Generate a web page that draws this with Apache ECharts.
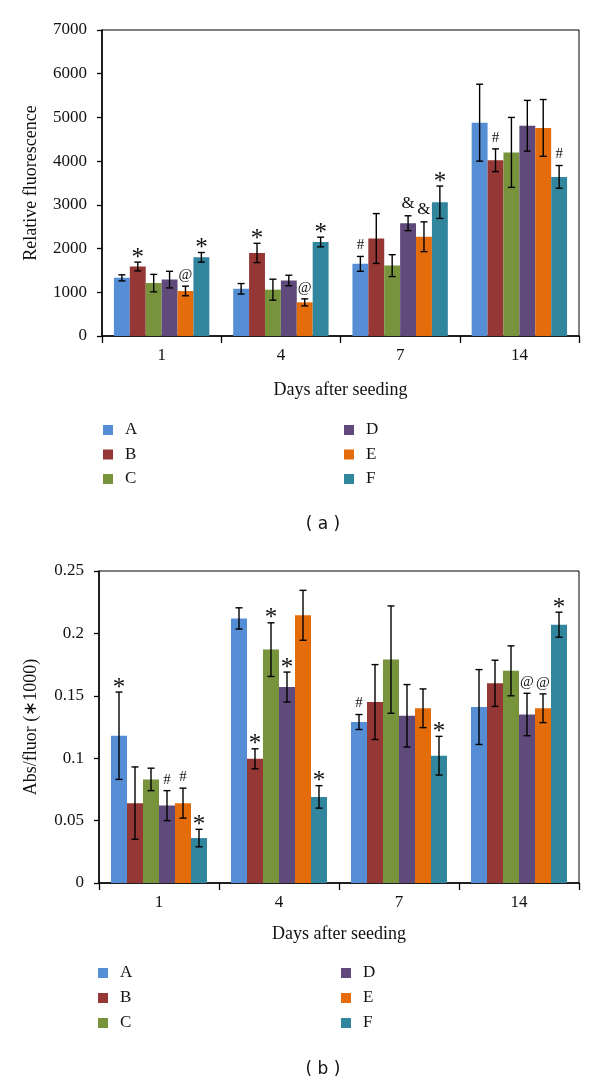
<!DOCTYPE html>
<html>
<head>
<meta charset="utf-8">
<script src="https://cdn.jsdelivr.net/npm/echarts/dist/echarts.min.js"></script>
<style>
html,body{margin:0;padding:0;background:#fff;}
#chart{width:600px;height:1084px;}
</style>
</head>
<body>
<div id="chart"></div>
<script>
// ---- categories / names ----
const days = ['1', '4', '7', '14'];
const groupNames = ['A', 'B', 'C', 'D', 'E', 'F'];
const groupColors = ['#558ED5', '#953735', '#77933C', '#604A7B', '#E46C0A', '#31859C'];

// ---- (a) Relative fluorescence ----
const fluorA = [1330, 1080, 1650, 4880];
const fluorB = [1590, 1900, 2230, 4020];
const fluorC = [1210, 1060, 1610, 4200];
const fluorD = [1290, 1270, 2580, 4810];
const fluorE = [1030, 770, 2270, 4760];
const fluorF = [1800, 2150, 3060, 3640];
const fluorErrA = [70, 120, 170, 880];
const fluorErrB = [100, 220, 570, 260];
const fluorErrC = [200, 240, 250, 800];
const fluorErrD = [190, 120, 170, 580];
const fluorErrE = [110, 80, 340, 650];
const fluorErrF = [110, 110, 370, 260];
const fluorMarkA = ['', '', '#', ''];
const fluorMarkB = ['*', '*', '', '#'];
const fluorMarkC = ['', '', '', ''];
const fluorMarkD = ['', '', '&', ''];
const fluorMarkE = ['@', '@', '&', ''];
const fluorMarkF = ['*', '*', '*', '#'];

// ---- (b) Abs/fluor (*1000) ----
const ratioA = [0.118, 0.212, 0.129, 0.141];
const ratioB = [0.064, 0.0995, 0.145, 0.160];
const ratioC = [0.083, 0.187, 0.179, 0.170];
const ratioD = [0.062, 0.157, 0.134, 0.135];
const ratioE = [0.064, 0.2145, 0.140, 0.140];
const ratioF = [0.036, 0.069, 0.102, 0.207];
const ratioErrA = [0.035, 0.0085, 0.006, 0.030];
const ratioErrB = [0.029, 0.008, 0.030, 0.0185];
const ratioErrC = [0.009, 0.0215, 0.043, 0.020];
const ratioErrD = [0.012, 0.012, 0.025, 0.017];
const ratioErrE = [0.012, 0.020, 0.0155, 0.0115];
const ratioErrF = [0.007, 0.009, 0.0155, 0.010];
const ratioMarkA = ['*', '', '#', ''];
const ratioMarkB = ['', '*', '', ''];
const ratioMarkC = ['', '*', '', ''];
const ratioMarkD = ['#', '*', '', '@'];
const ratioMarkE = ['#', '', '', '@'];
const ratioMarkF = ['*', '*', '*', '*'];

const fluorMeans = [fluorA, fluorB, fluorC, fluorD, fluorE, fluorF];
const fluorErrs = [fluorErrA, fluorErrB, fluorErrC, fluorErrD, fluorErrE, fluorErrF];
const fluorMarks = [fluorMarkA, fluorMarkB, fluorMarkC, fluorMarkD, fluorMarkE, fluorMarkF];
const ratioMeans = [ratioA, ratioB, ratioC, ratioD, ratioE, ratioF];
const ratioErrs = [ratioErrA, ratioErrB, ratioErrC, ratioErrD, ratioErrE, ratioErrF];
const ratioMarks = [ratioMarkA, ratioMarkB, ratioMarkC, ratioMarkD, ratioMarkE, ratioMarkF];

const SERIF = 'Liberation Serif';
const CAT_GAP = 0.2;

function barSeries(idx, means) {
  return groupNames.map((n, s) => ({
    type: 'bar', name: n, xAxisIndex: idx, yAxisIndex: idx,
    data: means[s], barGap: '0%', barCategoryGap: '20%',
    itemStyle: { color: groupColors[s] }, silent: true
  }));
}

const markStyle = {
  '*': { text: '*', size: 25, dy: -4 },
  '#': { text: '#', size: 15, dy: -11 },
  '@': { text: '@', size: 15, dy: -11 },
  '&': { text: '&', size: 17, dy: -12 }
};

function errSeries(idx, means, errs, marks) {
  const data = [];
  const markList = [];
  for (let s = 0; s < groupNames.length; s++) {
    for (let d = 0; d < days.length; d++) {
      data.push([d, s, means[s][d], errs[s][d]]);
      markList.push(marks[s][d]);
    }
  }
  return {
    type: 'custom', xAxisIndex: idx, yAxisIndex: idx, z: 10, silent: true,
    data: data, encode: { x: 0, y: 2 },
    renderItem: function (params, api) {
      const d = api.value(0), s = api.value(1), v = api.value(2), e = api.value(3);
      const band = api.size([1, 0])[0];
      const bw = band * (1 - CAT_GAP) / groupNames.length;
      const c = api.coord([d, v]);
      const x = c[0] + (s - (groupNames.length - 1) / 2) * bw;
      const yt = api.coord([d, v + e])[1];
      const yb = api.coord([d, v - e])[1];
      const cap = 3.5;
      const ls = { stroke: '#000', lineWidth: 1.4 };
      const children = [
        { type: 'line', shape: { x1: x, y1: yt, x2: x, y2: yb }, style: ls },
        { type: 'line', shape: { x1: x - cap, y1: yt, x2: x + cap, y2: yt }, style: ls },
        { type: 'line', shape: { x1: x - cap, y1: yb, x2: x + cap, y2: yb }, style: ls }
      ];
      const m = markList[params.dataIndex];
      if (m) {
        const ms = markStyle[m];
        children.push({
          type: 'text', x: x, y: yt + ms.dy,
          style: { text: ms.text, fontFamily: SERIF, fontSize: ms.size, fill: '#111', align: 'center', verticalAlign: 'middle' }
        });
      }
      return { type: 'group', children: children };
    }
  };
}

function legendCol(names, left, top, gap) {
  return {
    data: names, orient: 'vertical', left: left, top: top, padding: 0,
    icon: 'rect', itemWidth: 10, itemHeight: 10, itemGap: gap,
    selectedMode: false,
    textStyle: { fontFamily: SERIF, fontSize: 17, color: '#111', lineHeight: 20, padding: [0, 0, 0, 7] }
  };
}

const axisLineStyle = { lineStyle: { color: '#000', width: 1.5 } };

const option = {
  backgroundColor: '#fff',
  animation: false,
  grid: [
    { left: 102, top: 30, width: 477, height: 306, show: true, borderColor: '#000', borderWidth: 1, backgroundColor: 'transparent' },
    { left: 99, top: 571, width: 480, height: 312, show: true, borderColor: '#000', borderWidth: 1, backgroundColor: 'transparent' }
  ],
  xAxis: [0, 1].map(i => ({
    type: 'category', gridIndex: i, data: days,
    axisLine: axisLineStyle,
    axisTick: { show: true, length: 7, lineStyle: { color: '#000', width: 1.3 } },
    axisLabel: { fontFamily: SERIF, fontSize: 17, color: '#111', margin: 11 },
    name: 'Days after seeding', nameLocation: 'middle', nameGap: i === 0 ? 45 : 42,
    nameTextStyle: { fontFamily: SERIF, fontSize: 18, color: '#111' }
  })),
  yAxis: [
    {
      type: 'value', gridIndex: 0, min: 0, max: 7000, interval: 1000,
      axisLine: { show: true, lineStyle: { color: '#000', width: 1.5 } },
      axisTick: { show: true, length: 5, lineStyle: { color: '#000', width: 1.3 } },
      splitLine: { show: false },
      axisLabel: { fontFamily: SERIF, fontSize: 17, color: '#111', margin: 15, formatter: v => String(v) },
      name: 'Relative fluorescence', nameLocation: 'middle', nameGap: 62,
      nameTextStyle: { fontFamily: SERIF, fontSize: 18, color: '#111' }
    },
    {
      type: 'value', gridIndex: 1, min: 0, max: 0.25, interval: 0.05,
      axisLine: { show: true, lineStyle: { color: '#000', width: 1.5 } },
      axisTick: { show: true, length: 5, lineStyle: { color: '#000', width: 1.3 } },
      splitLine: { show: false },
      axisLabel: { fontFamily: SERIF, fontSize: 17, color: '#111', margin: 15, formatter: v => String(+v.toFixed(2)) },
      name: 'Abs/fluor (\u22171000)', nameLocation: 'middle', nameGap: 59,
      nameTextStyle: { fontFamily: SERIF, fontSize: 18, color: '#111' }
    }
  ],
  legend: [
    legendCol(['A', 'B', 'C'], 103, 420, 4.5),
    legendCol(['D', 'E', 'F'], 344, 420, 4.5),
    legendCol(['A', 'B', 'C'], 98, 963, 5),
    legendCol(['D', 'E', 'F'], 341, 963, 5)
  ],
  graphic: [
    { type: 'text', x: 323, y: 525, style: { text: '( a )', fontFamily: 'DejaVu Sans', fontSize: 17, fill: '#111', align: 'center', verticalAlign: 'middle' } },
    { type: 'text', x: 323, y: 1070, style: { text: '( b )', fontFamily: 'DejaVu Sans', fontSize: 17, fill: '#111', align: 'center', verticalAlign: 'middle' } }
  ],
  series: [].concat(
    barSeries(0, fluorMeans),
    [errSeries(0, fluorMeans, fluorErrs, fluorMarks)],
    barSeries(1, ratioMeans),
    [errSeries(1, ratioMeans, ratioErrs, ratioMarks)]
  )
};

const chart = echarts.init(document.getElementById('chart'), null, { renderer: 'canvas' });
chart.setOption(option);
</script>
</body>
</html>
